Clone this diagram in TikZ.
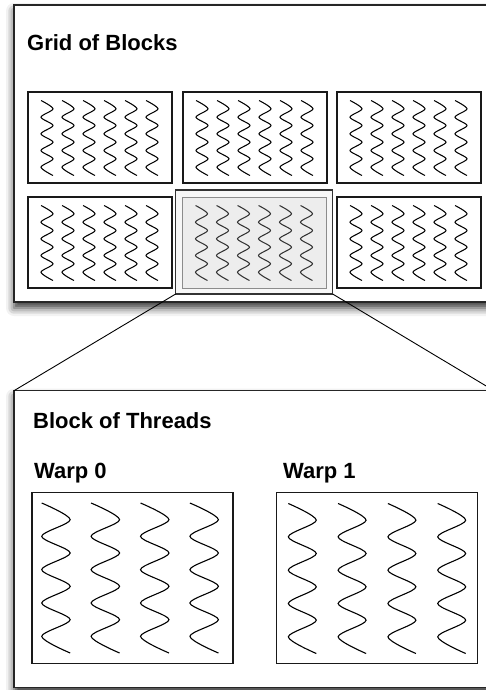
\documentclass[tikz,border=0pt]{standalone}
\usepackage{fontspec}
\setmainfont{Liberation Sans}
\usetikzlibrary{shadows.blur}

% one vertical squiggle: left x, top y, width, height, style
\newcommand\wavyline[5]{%
  \draw[#5] plot[smooth, variable=\t, domain=0:9, samples=10]
    ({(#1)+(#3)*(1-cos(180*\t))/2}, {(#2)+(#4)*\t/9});}

\tikzset{
  panel/.style={draw=black!85, line width=1.4pt, fill=white, outer sep=0pt,
    minimum width=480pt, minimum height=297pt, anchor=north west, inner sep=0pt,
    blur shadow={shadow xshift=0pt, shadow yshift=-6pt,
      shadow blur radius=8pt, shadow opacity=80}},
  title/.style={anchor=base west, inner sep=0pt,
    font=\fontsize{22}{25}\selectfont\bfseries},
  blockbox/.style={draw=black!90, line width=1.2pt, fill=white, outer sep=0pt,
    minimum width=144pt, minimum height=91pt, anchor=north west, inner sep=0pt},
  hlinner/.style={blockbox, draw=black!45, line width=1pt, fill=black!7},
  hlouter/.style={draw=black!80, line width=1.2pt, fill=black!3, outer sep=0pt,
    minimum width=157pt, minimum height=104pt, anchor=north west, inner sep=0pt},
  warpbox/.style={draw=black!90, line width=1.1pt, fill=white, outer sep=0pt,
    minimum width=201pt, minimum height=170.6pt, anchor=north west, inner sep=0pt},
  gridwave/.style={line width=1.05pt, black},
  hlwave/.style={line width=1.05pt, black!80},
  warpwave/.style={line width=1.1pt, black},
  link/.style={line width=0.9pt, black},
}

\begin{document}
\begin{tikzpicture}[x=1pt, y=-1pt]
\useasboundingbox (0,0) rectangle (486,690);
\clip (0,0) rectangle (486,690);

% grid of blocks
\node[panel] (grid) at (14,5) {};
\node[title] (gridtitle) at (27,50.7) {Grid of Blocks};

\foreach \n/\bx/\by in {b1/28/92, b2/183/92, b3/337/92, b4/28/197, b6/337/197} {
  \node[blockbox] (\n) at (\bx,\by) {};
  \foreach \k in {0,...,5}
    \wavyline{\bx+13+21*\k}{\by+8.5}{12}{75}{gridwave};
}

% the selected block
\node[hlouter] (hl) at (175.7,190) {};
\node[hlinner] (b5) at (182.5,197) {};
\foreach \k in {0,...,5}
  \wavyline{182.5+13+21*\k}{197+8.5}{12}{75}{hlwave};

% block of threads
\node[panel] (blk) at (14,390.7) {};
\node[title] (blktitle) at (33,428) {Block of Threads};

\node[title] (warp0label) at (34,478) {Warp 0};
\node[title] (warp1label) at (283,478) {Warp 1};

\node[warpbox] (w0) at (32,492.7) {};
\node[warpbox] (w1) at (276.7,492.7) {};
\foreach \k in {0,...,3} {
  \wavyline{41.7+49.4*\k}{503}{28.5}{150}{warpwave};
  \wavyline{288.3+49.8*\k}{503.5}{28}{150}{warpwave};
}

% zoom lines from the selected block to the enlarged view
\draw[link] (hl.south west) -- (blk.north west);
\draw[link] (hl.south east) -- (blk.north east);
\end{tikzpicture}
\end{document}
